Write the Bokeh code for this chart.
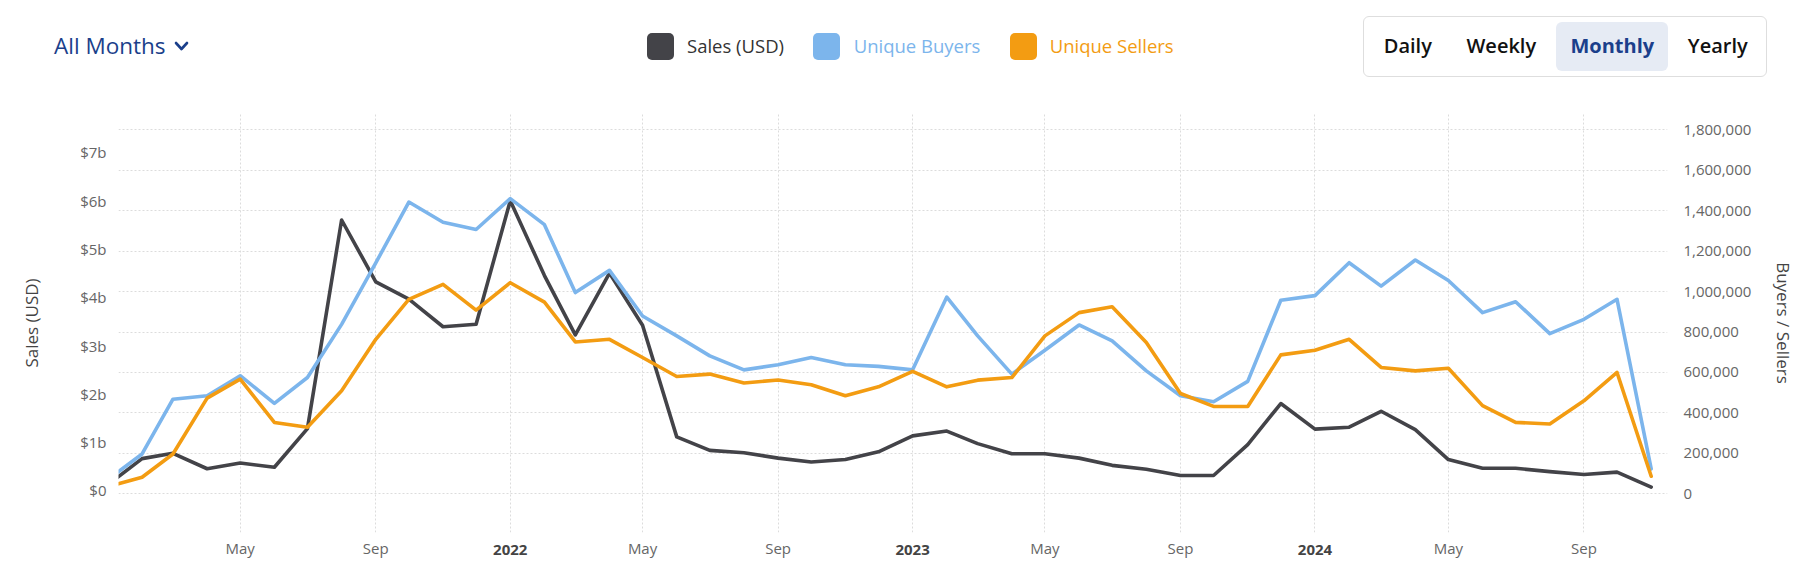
import numpy as np
import pandas as pd
from bokeh.plotting import figure
from bokeh.models import (ColumnDataSource, Range1d, LinearAxis, FixedTicker, Grid, Div)
from bokeh.layouts import column
from bokeh.embed import file_html
from bokeh.resources import INLINE

# ---------------- data ----------------
months = [
    "2021-01", "2021-02", "2021-03", "2021-04", "2021-05", "2021-06", "2021-07", "2021-08",
    "2021-09", "2021-10", "2021-11", "2021-12",
    "2022-01", "2022-02", "2022-03", "2022-04", "2022-05", "2022-06", "2022-07", "2022-08",
    "2022-09", "2022-10", "2022-11", "2022-12",
    "2023-01", "2023-02", "2023-03", "2023-04", "2023-05", "2023-06", "2023-07", "2023-08",
    "2023-09", "2023-10", "2023-11", "2023-12",
    "2024-01", "2024-02", "2024-03", "2024-04", "2024-05", "2024-06", "2024-07", "2024-08",
    "2024-09", "2024-10", "2024-11",
]
# Sales in billions of USD
sales_usd_b = [
    0.12, 0.66, 0.77, 0.45, 0.57, 0.48, 1.28, 5.60, 4.32, 3.96, 3.39, 3.44,
    6.00, 4.45, 3.22, 4.50, 3.42, 1.11, 0.83, 0.78, 0.67, 0.59, 0.64, 0.80,
    1.13, 1.23, 0.97, 0.76, 0.76, 0.67, 0.52, 0.44, 0.31, 0.31, 0.95, 1.80,
    1.27, 1.31, 1.64, 1.26, 0.64, 0.46, 0.46, 0.39, 0.33, 0.38, 0.07,
]
# thousands
unique_buyers_k = [
    70, 197, 468, 485, 584, 447, 575, 838, 1142, 1443, 1343, 1307,
    1460, 1331, 995, 1105, 879, 781, 682, 613, 638, 674, 638, 630,
    613, 973, 781, 592, 710, 835, 756, 608, 485, 455, 556, 957,
    980, 1143, 1027, 1156, 1055, 896, 950, 792, 863, 962, 123,
]
unique_sellers_k = [
    35, 82, 197, 473, 567, 353, 329, 510, 764, 962, 1036, 908,
    1044, 948, 751, 764, 674, 580, 592, 548, 563, 539, 485, 529,
    606, 529, 562, 575, 781, 896, 925, 748, 496, 432, 432, 687,
    710, 764, 625, 608, 621, 436, 353, 345, 460, 600, 87,
]

x_tick_dates = ["2021-05-01", "2021-09-01", "2022-01-01", "2022-05-01", "2022-09-01",
                "2023-01-01", "2023-05-01", "2023-09-01", "2024-01-01", "2024-05-01",
                "2024-09-01"]
x_tick_labels = ["May", "Sep", "", "May", "Sep", "", "May", "Sep", "", "May", "Sep"]
year_label_dates = ["2022-01-01", "2023-01-01", "2024-01-01"]
year_labels = ["2022", "2023", "2024"]

left_ticks = [0, 1_000_000_000, 2_000_000_000, 3_000_000_000, 4_000_000_000,
              5_000_000_000, 6_000_000_000, 7_000_000_000]
left_tick_labels = ["$0", "$1b", "$2b", "$3b", "$4b", "$5b", "$6b", "$7b"]
right_ticks = [0, 200000, 400000, 600000, 800000, 1000000, 1200000, 1400000, 1600000, 1800000]
right_tick_labels = ["0", "200,000", "400,000", "600,000", "800,000", "1,000,000",
                     "1,200,000", "1,400,000", "1,600,000", "1,800,000"]

series_names = ["Sales (USD)", "Unique Buyers", "Unique Sellers"]
series_colors = ["#434348", "#7cb5ec", "#f39c12"]
legend_text_colors = ["#333333", "#7cb5ec", "#f39c12"]
period_buttons = ["Daily", "Weekly", "Monthly", "Yearly"]
selected_period = "Monthly"
filter_label = "All Months"
left_title = "Sales (USD)"
right_title = "Buyers / Sellers"

FONT = "Open Sans"
NAVY = "#1b3f8b"
W = 1798

# ---------------- header (HTML) ----------------
sq_left = [647, 813, 1010]
txt_left = [687, 853.7, 1049.7]
btn_center = [1407.8, 1501.3, 1612.3, 1717.8]

parts = []
parts.append(
    f'<div style="position:absolute;left:54px;top:31px;line-height:30px;font-size:22.5px;'
    f'font-family:\'{FONT}\';color:{NAVY};white-space:nowrap;">{filter_label}</div>')
parts.append(
    '<svg style="position:absolute;left:170px;top:36px;" width="24" height="20">'
    f'<polyline points="6,7 11.5,13 17,7" fill="none" stroke="{NAVY}" '
    'stroke-width="2.6" stroke-linecap="round" stroke-linejoin="round"/></svg>')
for i, name in enumerate(series_names):
    parts.append(
        f'<div style="position:absolute;left:{sq_left[i]}px;top:33px;width:26.5px;height:27px;'
        f'border-radius:5px;background:{series_colors[i]};"></div>')
    parts.append(
        f'<div style="position:absolute;left:{txt_left[i]}px;top:32px;line-height:28px;'
        f'font-size:18.5px;font-family:\'{FONT}\';color:{legend_text_colors[i]};'
        f'white-space:nowrap;">{name}</div>')
parts.append(
    '<div style="position:absolute;left:1363px;top:15.7px;width:404px;height:61.6px;'
    'box-sizing:border-box;border:1px solid #dedede;border-radius:6px;background:#ffffff;"></div>')
sel = period_buttons.index(selected_period)
parts.append(
    f'<div style="position:absolute;left:1555.8px;top:22px;width:112.2px;height:48.7px;'
    'border-radius:6px;background:#e6ebf4;"></div>')
for i, b in enumerate(period_buttons):
    is_sel = (i == sel)
    color = NAVY if is_sel else "#111111"
    weight = 700 if is_sel else 600
    parts.append(
        f'<div style="position:absolute;left:{btn_center[i]}px;top:31px;line-height:30px;'
        f'transform:translateX(-50%);font-size:20px;font-weight:{weight};'
        f'font-family:\'{FONT}\';color:{color};white-space:nowrap;">{b}</div>')

header_html = ('<div style="position:relative;width:%dpx;height:90px;">' % W) + "".join(parts) + "</div>"
header = Div(text=header_html, width=W, height=90, margin=0)

# ---------------- main chart ----------------
def ms(s):
    return pd.Timestamp(s).value // 10**6

dates = pd.to_datetime([m + "-01" for m in months])
src = ColumnDataSource(dict(
    date=dates,
    sales=[v * 1e9 for v in sales_usd_b],
    buyers=[v * 1000 for v in unique_buyers_k],
    sellers=[v * 1000 for v in unique_sellers_k],
))

x_start = pd.Timestamp("2021-01-10 14:24")
x_end = pd.Timestamp("2024-11-15 19:00")

p = figure(width=W, height=485, x_axis_type="datetime",
           x_range=Range1d(x_start, x_end),
           y_range=Range1d(-0.87e9, 7.805e9),
           output_backend="svg", toolbar_location=None,
           min_border_left=118, min_border_right=126,
           min_border_top=23, min_border_bottom=43)
p.extra_y_ranges = {"right": Range1d(-191400, 1880800)}
p.outline_line_color = None
p.background_fill_color = "white"
p.border_fill_color = "white"

def style_axis(ax, standoff):
    ax.axis_line_color = None
    ax.major_tick_line_color = None
    ax.minor_tick_line_color = None
    ax.major_tick_out = 0
    ax.major_tick_in = 0
    ax.major_label_standoff = standoff
    ax.major_label_text_font = FONT
    ax.major_label_text_font_size = "15px"
    ax.major_label_text_color = "#666666"

# left axis
ya = p.yaxis[0]
ya.ticker = FixedTicker(ticks=left_ticks)
ya.major_label_overrides = {t: l for t, l in zip(left_ticks, left_tick_labels)}
style_axis(ya, 12)
ya.axis_label = left_title
ya.axis_label_standoff = 34
ya.axis_label_text_font = FONT
ya.axis_label_text_font_size = "17px"
ya.axis_label_text_font_style = "normal"
ya.axis_label_text_color = "#444444"

# right axis
ra = LinearAxis(y_range_name="right", ticker=FixedTicker(ticks=right_ticks))
ra.major_label_overrides = {t: l for t, l in zip(right_ticks, right_tick_labels)}
style_axis(ra, 16)
ra.axis_label = right_title
ra.axis_label_standoff = 18
ra.axis_label_text_font = FONT
ra.axis_label_text_font_size = "17px"
ra.axis_label_text_font_style = "normal"
ra.axis_label_text_color = "#444444"
p.add_layout(ra, "right")

# x axis (months)
xa = p.xaxis[0]
xt = [ms(d) for d in x_tick_dates]
xa.ticker = FixedTicker(ticks=xt)
xa.major_label_overrides = {t: l for t, l in zip(xt, x_tick_labels)}
style_axis(xa, 5)

# second x axis (years, bold) drawn on the same line as the months
yt = [ms(d) for d in year_label_dates]
xa2 = LinearAxis(ticker=FixedTicker(ticks=yt))
xa2.major_label_overrides = {t: l for t, l in zip(yt, year_labels)}
style_axis(xa2, -16)
xa2.major_label_text_font_style = "bold"
xa2.major_label_text_color = "#444444"
p.add_layout(xa2, "below")

# grids
p.xgrid[0].grid_line_color = "#dcdcdc"
p.xgrid[0].grid_line_dash = "2 2"
p.ygrid[0].visible = False
g = Grid(dimension=1, ticker=FixedTicker(ticks=right_ticks), y_range_name="right",
         grid_line_color="#dcdcdc", grid_line_dash="2 2")
p.add_layout(g)

# series
LW = 3.6
p.line("date", "sales", source=src, color=series_colors[0], line_width=LW,
       line_join="round", line_cap="round")
p.line("date", "buyers", source=src, color=series_colors[1], line_width=LW,
       line_join="round", line_cap="round", y_range_name="right")
p.line("date", "sellers", source=src, color=series_colors[2], line_width=LW,
       line_join="round", line_cap="round", y_range_name="right")

layout = column(header, p, spacing=0)
open("out.html", "w").write(file_html(layout, INLINE))
